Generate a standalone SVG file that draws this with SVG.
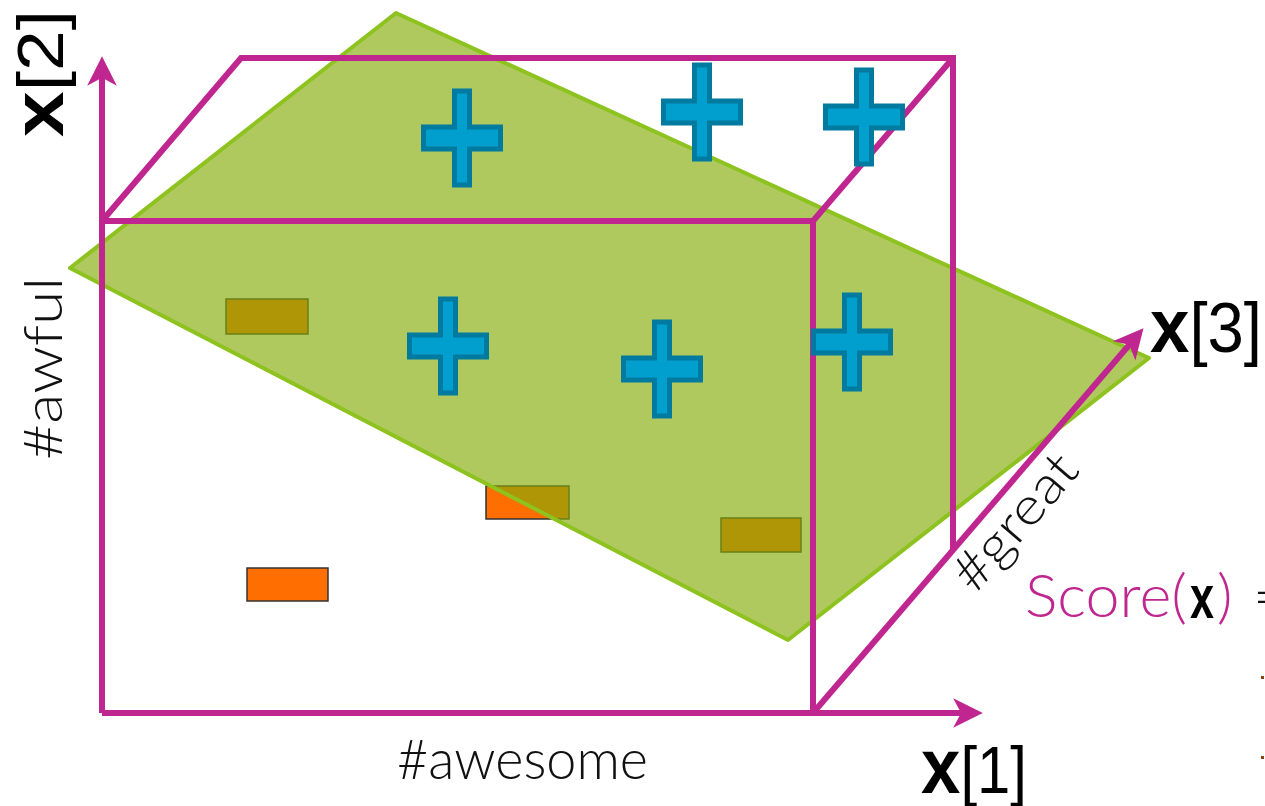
<svg xmlns="http://www.w3.org/2000/svg" width="1265" height="806" viewBox="0 0 1265 806">
<style>
.minus{fill:#FF6E00;stroke:#333;stroke-width:1.5}
.plane{fill:#84AC09;fill-opacity:0.65;stroke:#8DC21F;stroke-width:4;stroke-linejoin:round}
.mag{fill:none;stroke:#C0268F;stroke-width:6;stroke-linejoin:miter}
.plus{fill:#009FCE;stroke:#007A9F;stroke-width:5}
.lbl{font-family:Lato,"Liberation Sans",sans-serif;font-weight:300;fill:#111}
.ax{font-family:"Liberation Sans",Arial,sans-serif;fill:#000}
.b{font-weight:bold}
</style>
<defs>
<marker id="arr" markerUnits="userSpaceOnUse" markerWidth="40" markerHeight="40" viewBox="-25 -15 35 30" refX="0" refY="0" orient="auto">
<path d="M6,0 L-20,-13 L-13,0 L-20,13 Z" fill="#C0268F"/>
</marker>
<path id="pl" d="M-7.5,-47 H7.5 V-11 H38.5 V11 H7.5 V47 H-7.5 V11 H-38.5 V-11 H-7.5 Z"/>
</defs>
<g id="minus-1"><rect class="minus" x="226" y="299" width="82" height="35"/></g>
<g id="minus-2"><rect class="minus" x="247" y="568" width="81" height="33"/></g>
<g id="minus-3"><rect class="minus" x="486" y="486" width="83" height="33"/></g>
<g id="minus-4"><rect class="minus" x="721" y="518" width="80" height="34"/></g>
<g id="plane"><polygon class="plane" points="70,268 396,13 1149,358 788,640"/></g>
<g id="connectors">
<path class="mag" d="M102,713 V63" marker-end="url(#arr)"/>
<path class="mag" d="M102,713 H976" marker-end="url(#arr)"/>
<path class="mag" d="M813,713 L1139,333.5" marker-end="url(#arr)"/>
<path class="mag" d="M102,221 H813 V713"/>
<path class="mag" d="M102,221 L241,58 H953 V550"/>
<path class="mag" d="M813,221 L953,58"/>
</g>
<g id="plus-1"><use href="#pl" class="plus" x="462" y="138"/></g>
<g id="plus-2"><use href="#pl" class="plus" x="702" y="112"/></g>
<g id="plus-3"><use href="#pl" class="plus" x="864" y="117"/></g>
<g id="plus-4"><use href="#pl" class="plus" x="448" y="346"/></g>
<g id="plus-5"><use href="#pl" class="plus" x="662" y="369"/></g>
<g id="plus-6"><use href="#pl" class="plus" x="852" y="342"/></g>
<g id="labels">
<text class="ax" transform="translate(63,137) rotate(-90)" textLength="127" lengthAdjust="spacingAndGlyphs"><tspan class="b" font-size="72">x</tspan><tspan font-size="64">[2]</tspan></text>
<text class="lbl" font-size="54" transform="translate(62,460) rotate(-90)" textLength="183" lengthAdjust="spacingAndGlyphs">#awful</text>
<text class="lbl" font-size="55" x="397" y="779" textLength="251" lengthAdjust="spacingAndGlyphs">#awesome</text>
<text class="ax" x="921" y="793" textLength="106" lengthAdjust="spacingAndGlyphs"><tspan class="b" font-size="78">x</tspan><tspan font-size="66">[1]</tspan></text>
<text class="ax" x="1150" y="352" textLength="112" lengthAdjust="spacingAndGlyphs"><tspan class="b" font-size="76">x</tspan><tspan font-size="70">[3]</tspan></text>
<text class="lbl" font-size="52" transform="translate(975,595) rotate(-49.3)" textLength="163" lengthAdjust="spacingAndGlyphs">#great</text>
<text class="lbl" font-size="60" x="1025" y="617" style="fill:#C0268F" textLength="162" lengthAdjust="spacingAndGlyphs">Score(</text>
<text class="ax b" font-size="62" x="1190" y="618" textLength="24" lengthAdjust="spacingAndGlyphs">x</text>
<text class="lbl" font-size="60" x="1217" y="617" style="fill:#C0268F">)</text>
<text class="lbl" font-size="60" x="1253" y="617">=</text>
</g>
<rect x="1261" y="676" width="3" height="3" fill="#8B4513"/>
<rect x="1261" y="756" width="3" height="3" fill="#8B4513"/>
</svg>
